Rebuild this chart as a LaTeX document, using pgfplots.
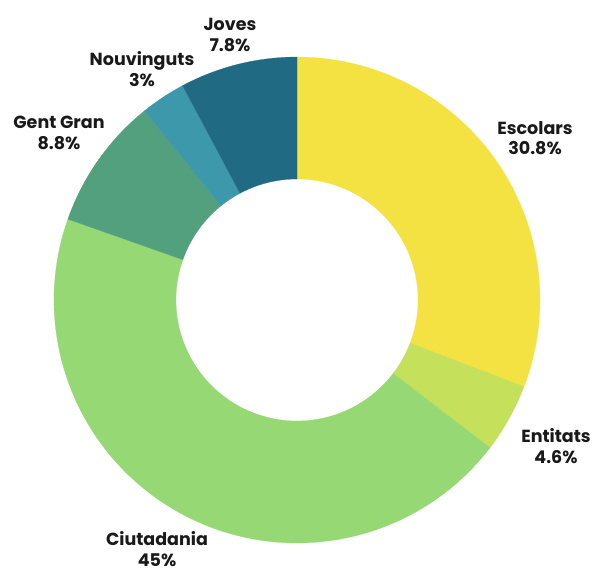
\documentclass[border=0pt]{standalone}
\usepackage{pgfplots}
\pgfplotsset{compat=1.18}
\usepackage{pgfplotstable}
\usepackage{fontspec}
\setmainfont{Poppins}
\definecolor{cEsc}{RGB}{244,226,66}
\definecolor{cEnt}{RGB}{197,224,90}
\definecolor{cCiu}{RGB}{149,216,116}
\definecolor{cGen}{RGB}{82,160,125}
\definecolor{cNou}{RGB}{62,152,172}
\definecolor{cJov}{RGB}{32,106,131}
\pgfplotstableread{
label value col lx ly
Escolars 30.8 cEsc 238 162
Entitats 4.6 cEnt 259 -146
Ciutadania 45 cCiu -140 -249
{Gent Gran} 8.8 cGen -238 167
Nouvinguts 3 cNou -155 231
Joves 7.8 cJov -67 265
}\piedata
\begin{document}
\begin{tikzpicture}
\begin{axis}[name=ax, hide axis, scale only axis, width=596pt, height=573pt,
  xmin=-297, xmax=299, ymin=-273, ymax=300, clip=false]
\pgfplotsextra{%
  \gdef\startang{90}%
  \foreach \i in {0,...,5}{%
    \pgfplotstablegetelem{\i}{value}\of\piedata \let\v\pgfplotsretval
    \pgfplotstablegetelem{\i}{col}\of\piedata \let\c\pgfplotsretval
    \pgfplotstablegetelem{\i}{label}\of\piedata \let\lab\pgfplotsretval
    \pgfplotstablegetelem{\i}{lx}\of\piedata \let\lx\pgfplotsretval
    \pgfplotstablegetelem{\i}{ly}\of\piedata \let\ly\pgfplotsretval
    \pgfmathsetmacro\endang{\startang-\v*3.6}%
    \fill[fill=\c, draw=\c, line width=0.2pt]
      (axis cs:{243*cos(\startang)},{243*sin(\startang)})
      arc[start angle=\startang, end angle=\endang, radius=243pt]
      -- (axis cs:{121*cos(\endang)},{121*sin(\endang)})
      arc[start angle=\endang, end angle=\startang, radius=121pt] -- cycle;
    \node[align=center, font=\bfseries\fontsize{17.5}{20.5}\selectfont, text=black!90]
      at (axis cs:\lx,\ly) {\lab\\\v\%};
    \global\let\startang\endang
  }%
}
\end{axis}
\pgfresetboundingbox
\useasboundingbox (ax.south west) rectangle (ax.north east);
\end{tikzpicture}
\end{document}
